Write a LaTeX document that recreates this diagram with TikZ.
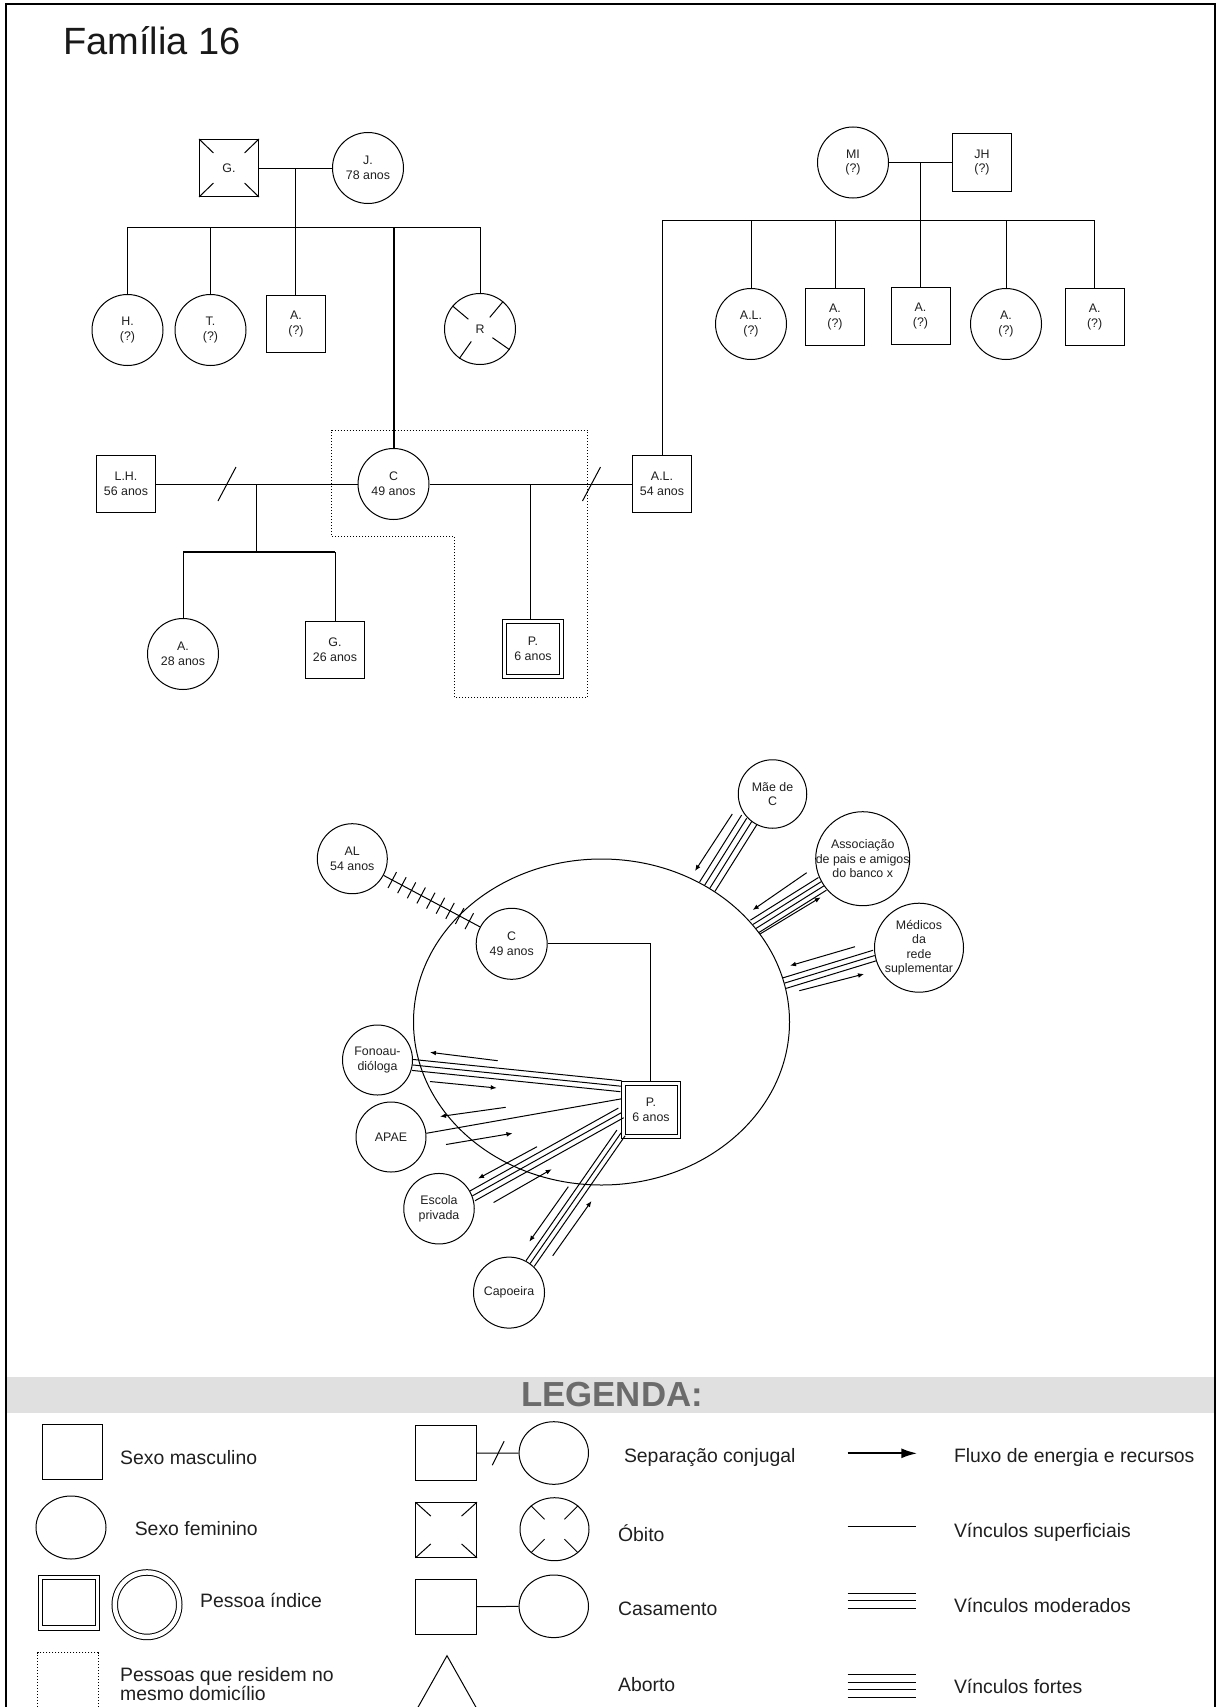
\documentclass[tikz,border=0pt]{standalone}
\usepackage{fontspec}
\setmainfont{Liberation Sans}
\usetikzlibrary{calc,arrows.meta,shapes.geometric,decorations.markings}
\newcommand\fsz[2]{\fontsize{#1}{#2}\selectfont}
\newcommand\bandlines[3]{\foreach \bandoff in {#3}{\draw[ln] ($(#1)!\bandoff!90:(#2)$) -- ($(#2)!\bandoff!-90:(#1)$);}}
\begin{document}
\begin{tikzpicture}[x=0.5pt,y=-0.5pt,
  ln/.style={line width=0.5pt, draw=black},
  thk/.style={line width=1pt, draw=black},
  lbl/.style={font=\fsz{6.2pt}{7.3pt}, text=black!88, align=center},
  sq/.style={draw, rectangle, line width=0.5pt, minimum width=29.5pt, minimum height=28.5pt, inner sep=0pt, lbl},
  ci/.style={draw, circle, line width=0.5pt, minimum size=35.5pt, inner sep=0pt, lbl},
  el/.style={draw, ellipse, line width=0.5pt, inner sep=0pt},
  dsq/.style={sq, double, double distance=1.5pt},
  dots/.style={line width=0.5pt, dash pattern=on 0.5pt off 1pt},
  flow/.style={line width=0.5pt, -{Latex[length=3pt,width=2.4pt]}},
  lt/.style={anchor=west, font=\fsz{9.7pt}{9.5pt}, text=black!88, align=left, inner sep=0pt},
  hatch/.style={postaction={decorate, decoration={markings, mark=between positions 0.09 and 0.895 step 0.1 with {\draw[line width=0.5pt] (0pt,-4.5pt) -- (0pt,4.5pt);}}}},
]
\useasboundingbox (0,0) rectangle (1218,1707);
\clip (0,0) rectangle (1218,1707);
\fill[black!12] (6,1376.7) rectangle (1214.5,1412.7);
\draw[line width=1pt] (5.5,4.5) rectangle (1215,1730);

% title
\node[anchor=base west, inner sep=0pt, font=\fsz{19pt}{22pt}, text=black!90] (title) at (63,55) {Família 16};

% ---------- genogram: family 1
\node[sq] (G) at (229,168) {G.};
\node[ci] (J) at (368,168) {J.\\78 anos};
\draw[ln] (G) -- (J);
\foreach \c/\o in {north west/south east, north east/south west, south west/north east, south east/north west}
  \draw[ln] (G.\c) -- ($(G.\c)!0.24!(G.\o)$);
\coordinate (gj) at ($(G.east)!0.5!(J.west)$);
\coordinate (sib1) at (0,227.3);
\node[ci] (H) at (127.5,330) {H.\\(?)};
\node[ci] (T) at (210.5,330) {T.\\(?)};
\node[sq] (A1) at (296,323.8) {A.\\(?)};
\node[ci] (R) at (480,329) {R};
\foreach \a in {140,50,235,325}
  \draw[ln] (R.\a) -- ($(R)!0.42!(R.\a)$);
\draw[ln] (gj) -- (gj |- A1.north);
\draw[ln] (H.north |- sib1) -- (R.north |- sib1);
\draw[ln] (H.north |- sib1) -- (H.north);
\draw[ln] (T.north |- sib1) -- (T.north);
\draw[ln] (R.north |- sib1) -- (R.north);

% ---------- genogram: family 2
\node[ci] (MI) at (853,162.5) {MI\\(?)};
\node[sq] (JH) at (982,162.5) {JH\\(?)};
\draw[ln] (MI) -- (JH);
\coordinate (mj) at ($(MI.east)!0.5!(JH.west)$);
\coordinate (sib2) at (0,220);
\node[ci] (AL1) at (751,324) {A.L.\\(?)};
\node[sq] (A2) at (835,317) {A.\\(?)};
\node[sq] (A3) at (920.5,316) {A.\\(?)};
\node[ci] (A4) at (1006,324) {A.\\(?)};
\node[sq] (A5) at (1094.6,317) {A.\\(?)};
\draw[ln] (mj) -- (mj |- A3.north);

% ---------- generation 3
\node[sq] (LH) at (126,484) {L.H.\\56 anos};
\node[ci] (C) at (393.5,484) {C\\49 anos};
\node[sq] (ALh) at (662,484) {A.L.\\54 anos};
\draw[thk] (C.north |- sib1) -- (C.north);
\draw[ln] (ALh.north |- sib2) -- (A5.north |- sib2);
\foreach \n in {ALh, AL1, A2, A4, A5}
  \draw[ln] (\n.north |- sib2) -- (\n.north);
\draw[ln] (LH) -- (C);
\draw[ln] (C) -- (ALh);
\coordinate (x1) at (227,484);
\coordinate (x2) at (591.5,484);
\draw[ln] ($(x1)+(-9,17)$) -- ($(x1)+(9,-17)$);
\draw[ln] ($(x2)+(-9,17)$) -- ($(x2)+(9,-17)$);
\coordinate (lc) at ($(LH.east)!0.5!(C.west)$);
\coordinate (ca) at ($(C.east)!0.5!(ALh.west)$);
\coordinate (sib3) at (0,552.3);
\node[ci] (A6) at (183,654) {A.\\28 anos};
\node[sq] (G2) at (335,649.7) {G.\\26 anos};
\node[dsq, minimum width=28.1pt, minimum height=27.15pt] (Pg) at (533,649) {P.\\6 anos};
\draw[ln] (lc) -- (lc |- sib3);
\draw[thk] (A6.north |- sib3) -- (G2.north |- sib3);
\draw[ln] (A6.north |- sib3) -- (A6.north);
\draw[ln] (G2.north |- sib3) -- (G2.north);
\draw[ln] (ca) -- ($(ca |- Pg.north)+(0,-1.75)$);
\draw[dots] (331.5,430) -- (587.4,430) -- (587.4,697.7) -- (454.4,697.7) -- (454.4,536.7) -- (331.5,536.7) -- cycle;

% ---------- eco-map
\node[el, minimum width=188pt, minimum height=163pt] (eco) at (601.5,1022) {};
\node[ci, minimum size=35pt] (eAL) at (352.3,858.7) {AL\\54 anos};
\node[ci] (eC) at (511.7,943.8) {C\\49 anos};
\node[ci, minimum size=34.25pt] (mae) at (772.5,794) {Mãe de\\C};
\node[ci, minimum size=47pt] (assoc) at (862.7,858.7) {};
\node[lbl, inner sep=0pt] (assoctxt) at (assoc) {Associação\\de pais e amigos\\do banco x};
\node[ci, minimum size=44.5pt] (med) at (919,947.7) {};
\node[lbl, inner sep=0pt] (medtxt) at (med) {Médicos\\da\\rede\\suplementar};
\node[ci, minimum size=35pt] (fono) at (377.5,1060) {Fonoau-\\dióloga};
\node[ci, minimum size=35pt] (apae) at (391,1137) {APAE};
\node[ci, minimum size=35.25pt] (esc) at (439,1208.7) {Escola\\privada};
\node[ci] (cap) at (509,1292.6) {Capoeira};
\node[dsq, double distance=1.25pt, minimum width=27.75pt, minimum height=26.6pt] (P) at (651,1110) {P.\\6 anos};

\draw[ln, hatch] (eAL) -- (eC);
\draw[ln] (eC.east) -| ($(P.north)+(-1,-1.75)$);

\coordinate (pf) at ($(P.north west)+(-1.75,3.3)$);
\coordinate (pa) at ($(P.north west)+(-1.75,16)$);
\coordinate (pe) at ($(P.north west)+(-1.75,30)$);
\coordinate (pc) at ($(P.north west)+(-1.75,50)$);
\bandlines{fono.352}{pf}{-2.75pt,0pt,2.75pt}
\draw[ln] (apae.6) -- (pa);
\bandlines{esc.21}{pe}{-2.75pt,0pt,2.75pt}
\bandlines{cap.54}{pc}{-2.5pt,0pt,2.5pt}
\bandlines{mae.228}{eco.52}{-4.5pt,-1.5pt,1.5pt,4.5pt}
\bandlines{assoc.212}{eco.32}{-3.75pt,-1.25pt,1.25pt,3.75pt}
\bandlines{med.190}{eco.12}{-2.75pt,0pt,2.75pt}

% flow arrows
\draw[flow] (732.3,814) -- (695,871);
\draw[flow] (806.7,872.7) -- (752.7,910);
\draw[flow] (760,934) -- (820.7,897.3);
\draw[flow] (855,946.7) -- (790,965.7);
\draw[flow] (799.3,990.7) -- (864,974);
\draw[flow] (497.7,1060.7) -- (430,1052.3);
\draw[flow] (430,1081.5) -- (496.7,1088);
\draw[flow] (505.7,1107.3) -- (440,1116.5);
\draw[flow] (446,1144.5) -- (512.5,1133.3);
\draw[flow] (537,1146.7) -- (478,1178.6);
\draw[flow] (493.6,1202.5) -- (551.7,1169.2);
\draw[flow] (568.3,1186.7) -- (529.3,1241.7);
\draw[flow] (552.7,1255.8) -- (591.5,1201);

% ---------- legend
\node[font=\bfseries\fsz{17.4pt}{20pt}, text=black!58, inner sep=0pt] (legtitle) at (612,1395) {LEGENDA:};

\node[sq, minimum width=30.25pt, minimum height=27.5pt] (lm) at (72.5,1452) {};
\node[lt] (tm) at (119.8,1457.7) {Sexo masculino};
\node[el, minimum width=35pt, minimum height=31.5pt] (lf) at (71,1527.5) {};
\node[lt] (tf) at (134.4,1528.3) {Sexo feminino};
\node[draw, rectangle, double, double distance=1.75pt, line width=0.5pt, minimum width=28.35pt, minimum height=25.25pt, inner sep=0pt] (li1) at (69,1602.5) {};
\node[draw, circle, double, double distance=2.25pt, line width=0.5pt, minimum size=32.25pt, inner sep=0pt] (li2) at (147,1604.7) {};
\node[lt] (ti) at (199.7,1600.7) {Pessoa índice};
\node[draw, dots, rectangle, minimum width=30.2pt, minimum height=30pt, inner sep=0pt] (ld) at (67.8,1682.7) {};
\node[lt] (td) at (119.8,1683.8) {Pessoas que residem no\\mesmo domicílio};

\node[sq, minimum width=30.25pt, minimum height=27.5pt] (ls1) at (446.2,1453.2) {};
\node[el, minimum width=34.7pt, minimum height=31.3pt] (ls2) at (553.8,1453) {};
\draw[ln] (ls1) -- (ls2);
\coordinate (x3) at (498.2,1453.2);
\draw[ln] ($(x3)+(-5.9,12)$) -- ($(x3)+(5.9,-12)$);
\node[lt] (ts) at (623.6,1457.7) {Separação conjugal};

\node[sq, minimum width=30.25pt, minimum height=27.3pt] (lo1) at (446.2,1530) {};
\node[el, minimum width=34.5pt, minimum height=31.5pt] (lo2) at (554.5,1529.2) {};
\foreach \c/\o in {north west/south east, north east/south west, south west/north east, south east/north west}
  \draw[ln] (lo1.\c) -- ($(lo1.\c)!0.25!(lo1.\o)$);
\foreach \a in {135,45,225,315}
  \draw[ln] (lo2.\a) -- ($(lo2)!0.42!(lo2.\a)$);
\node[lt] (to) at (617.7,1533.3) {Óbito};

\node[sq, minimum width=30.25pt, minimum height=27.35pt] (lc1) at (446.2,1606.7) {};
\node[el, minimum width=34.7pt, minimum height=31.3pt] (lc2) at (553.8,1606.3) {};
\draw[ln] (lc1) -- (lc2);
\node[lt] (tc) at (617.7,1609.3) {Casamento};

\draw[ln] (447,1655.7) -- (410.4,1720.7) -- (483.6,1720.7) -- cycle;
\node[lt] (ta) at (617.7,1684.3) {Aborto};

\coordinate (fa1) at (847.5,1453.3);
\coordinate (fa2) at (917.3,1453.3);
\draw[line width=1pt, -{Latex[length=8pt,width=5pt]}] (fa1) -- (fa2);
\node[lt] (tfl) at (953.6,1457.7) {Fluxo de energia e recursos};
\draw[ln] (847.5,1526.7) -- (916,1526.7);
\node[lt] (tsu) at (953.6,1532.7) {Vínculos superficiais};
\foreach \yy in {1593.3,1600.8,1608.3}
  \draw[ln] (847.5,\yy) -- (916,\yy);
\node[lt] (tmo) at (953.6,1605) {Vínculos moderados};
\foreach \yy in {1674.3,1682,1689.8,1697.6}
  \draw[ln] (847.5,\yy) -- (916,\yy);
\node[lt] (tfo) at (953.6,1686) {Vínculos fortes};
\end{tikzpicture}
\end{document}
